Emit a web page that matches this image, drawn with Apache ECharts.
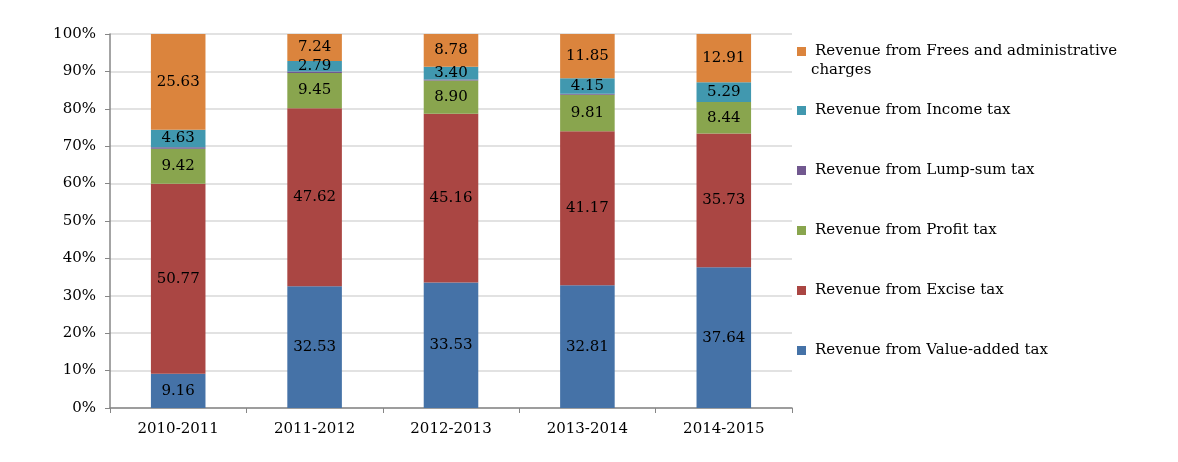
<!DOCTYPE html>
<html>
<head>
<meta charset="utf-8">
<script src="https://cdn.jsdelivr.net/npm/echarts@6/dist/echarts.min.js"></script>
<style>
  html, body { margin: 0; padding: 0; background: #fff; }
  #main { width: 1178px; height: 462px; }
</style>
</head>
<body>
<div id="main"></div>
<script>
// data (shares in %)
var years = ['2010-2011', '2011-2012', '2012-2013', '2013-2014', '2014-2015'];
var vatTax = [9.16, 32.53, 33.53, 32.81, 37.64];
var exciseTax = [50.77, 47.62, 45.16, 41.17, 35.73];
var profitTax = [9.42, 9.45, 8.90, 9.81, 8.44];
var lumpSumTax = [0.39, 0.37, 0.23, 0.21, 0.0];
var incomeTax = [4.63, 2.79, 3.40, 4.15, 5.29];
var feesTax = [25.63, 7.24, 8.78, 11.85, 12.91];

var names = [
    'Revenue from Value-added tax',
    'Revenue from Excise tax',
    'Revenue from Profit tax',
    'Revenue from Lump-sum tax',
    'Revenue from Income tax',
    'Revenue from Frees and administrative'
];
var colors = ['#4572a7', '#aa4643', '#89a54e', '#71588f', '#4198af', '#db843d'];
var values = [vatTax, exciseTax, profitTax, lumpSumTax, incomeTax, feesTax];

var font = 'DejaVu Serif';

var chart = echarts.init(document.getElementById('main'));

var series = values.map(function (arr, i) {
    return {
        name: names[i],
        type: 'bar',
        stack: 'total',
        barWidth: '40%',
        itemStyle: { color: colors[i] },
        label: {
            show: i !== 3,
            position: 'inside',
            color: '#000',
            fontFamily: font,
            fontSize: 15,
            formatter: function (p) { return p.value.toFixed(2); }
        },
        data: arr
    };
});

// one legend per item, top to bottom as in the picture
var legendTops = [39, 98, 158, 218, 278, 338];
var legends = names.slice().reverse().map(function (n, i) {
    return {
        data: [n],
        left: 792,
        top: legendTops[i],
        icon: 'rect',
        itemWidth: 9,
        itemHeight: 9,
        selectedMode: false,
        textStyle: { fontFamily: font, fontSize: 15, color: '#000', padding: [0, 0, 0, 4] }
    };
});

chart.setOption({
    animation: false,
    color: colors,
    grid: { left: 110, right: 386, top: 34, bottom: 54, containLabel: false },
    legend: legends,
    graphic: [{
        type: 'text',
        left: 811,
        top: 63,
        style: { text: 'charges', fontFamily: font, fontSize: 15, fill: '#000' }
    }],
    xAxis: {
        type: 'category',
        data: years,
        axisLine: { lineStyle: { color: '#868686', width: 1.5 } },
        axisTick: { show: true, alignWithLabel: false, length: 5, lineStyle: { color: '#868686' } },
        axisLabel: { color: '#000', fontFamily: font, fontSize: 15, margin: 14 }
    },
    yAxis: {
        type: 'value',
        min: 0,
        max: 100,
        interval: 10,
        axisLine: { show: true, lineStyle: { color: '#868686', width: 1.5 } },
        axisTick: { show: true, length: 5, lineStyle: { color: '#868686' } },
        axisLabel: { color: '#000', fontFamily: font, fontSize: 15, margin: 14, formatter: '{value}%' },
        splitLine: { lineStyle: { color: '#d9d9d9', width: 1.5 } }
    },
    series: series
});
</script>
</body>
</html>
